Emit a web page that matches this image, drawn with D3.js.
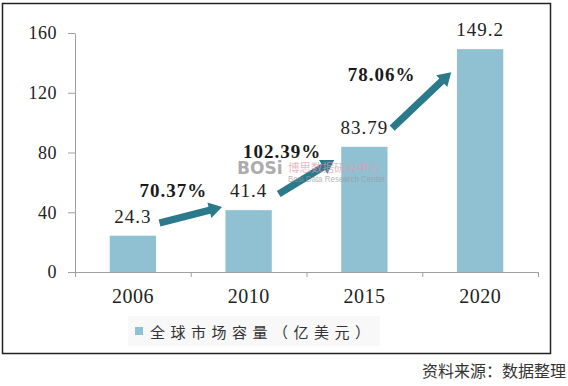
<!DOCTYPE html>
<meta charset="utf-8">
<style>
body { margin: 0; background: #fff; }
.axis path, .axis line { stroke: #a0a0a0; }
.axis text { fill: #222; font-family: "Liberation Serif", serif; }
</style>
<script src="https://d3js.org/d3.v7.min.js"></script>
<div id="chart"></div>
<script>
// data
var years = ["2006", "2010", "2015", "2020"];
var values = [24.3, 41.4, 83.79, 149.2];
var yTicks = [0, 40, 80, 120, 160];
var growth = ["70.37%", "102.39%", "78.06%"];
// growth label spots, x in band steps from the axis start, y in chart units
var growthX = [0.85, 1.79, 2.65];
var growthY = [50, 76.5, 128];
// arrows, same units
var arrowX0 = [0.73, 1.76, 2.74], arrowY0 = [32.8, 52.2, 96.3];
var arrowX1 = [1.27, 2.24, 3.25], arrowY1 = [43.5, 74.9, 133.8];
var legendLabel = "全球市场容量（亿美元）";
var sourceLabel = "资料来源：数据整理";

var W = 568, H = 386;
var barColor = "#8fc1d3", arrowColor = "#2b7a8b";

var svg = d3.select("#chart").append("svg")
  .attr("width", W).attr("height", H);

// outer frame
svg.append("rect")
  .attr("x", 2.5).attr("y", 3.5)
  .attr("width", 548).attr("height", 350)
  .attr("fill", "none").attr("stroke", "#222").attr("stroke-width", 1.5);

var x = d3.scaleBand().domain(years).range([75, 538])
  .paddingInner(0.6).paddingOuter(0.3);
var y = d3.scaleLinear().domain([0, 160]).range([272, 33]);
var step = x.step();
var ux = function(u) { return x.range()[0] + u * step; };

// y axis
var yAxis = svg.append("g").attr("class", "axis")
  .attr("transform", "translate(75,0)")
  .call(d3.axisLeft(y).tickValues(yTicks).tickSize(7).tickPadding(11).tickSizeOuter(0));
yAxis.selectAll("text").style("font-size", "18px").style("letter-spacing", "0.5px");

// x axis: labels, then boundary ticks
var xAxis = svg.append("g").attr("class", "axis")
  .attr("transform", "translate(0,272)")
  .call(d3.axisBottom(x).tickSize(0).tickPadding(17).tickSizeOuter(0));
xAxis.select(".domain").remove();
xAxis.selectAll("text").style("font-size", "20px").style("letter-spacing", "0.5px");
svg.append("line")
  .attr("x1", 75).attr("x2", 538).attr("y1", 272.5).attr("y2", 272.5)
  .attr("stroke", "#a0a0a0");
svg.append("g").selectAll("line")
  .data(d3.range(years.length + 1))
  .enter().append("line")
    .attr("x1", function(i) { return ux(i) + 0.5; })
    .attr("x2", function(i) { return ux(i) + 0.5; })
    .attr("y1", 272).attr("y2", 277)
    .attr("stroke", "#a0a0a0");

// bars
svg.append("g").selectAll("rect")
  .data(values)
  .enter().append("rect")
    .attr("x", function(d, i) { return x(years[i]); })
    .attr("width", x.bandwidth())
    .attr("y", function(d) { return y(d); })
    .attr("height", function(d) { return y(0) - y(d); })
    .attr("fill", barColor);

// value labels
svg.append("g").selectAll("text")
  .data(values)
  .enter().append("text")
    .attr("x", function(d, i) { return x(years[i]) + x.bandwidth() / 2; })
    .attr("y", function(d) { return y(d) - 13; })
    .attr("text-anchor", "middle")
    .style("font-family", "Liberation Serif, serif")
    .style("font-size", "19px")
    .style("letter-spacing", "1px")
    .style("fill", "#222")
    .text(function(d) { return d; });

// arrows
function arrowPath(i) {
  var x0 = ux(arrowX0[i]), y0 = y(arrowY0[i]);
  var x1 = ux(arrowX1[i]), y1 = y(arrowY1[i]);
  var len = Math.hypot(x1 - x0, y1 - y0);
  var dx = (x1 - x0) / len, dy = (y1 - y0) / len;
  var nx = -dy, ny = dx;
  var hw = 3.6, hh = 8, hl = 13;
  var bx = x1 - dx * hl, by = y1 - dy * hl;
  var pts = [
    [x0 + nx * hw, y0 + ny * hw],
    [bx + nx * hw, by + ny * hw],
    [bx + nx * hh, by + ny * hh],
    [x1, y1],
    [bx - nx * hh, by - ny * hh],
    [bx - nx * hw, by - ny * hw],
    [x0 - nx * hw, y0 - ny * hw]
  ];
  return "M" + pts.join("L") + "Z";
}
svg.append("g").selectAll("path")
  .data(growth)
  .enter().append("path")
    .attr("d", function(d, i) { return arrowPath(i); })
    .attr("fill", arrowColor);

// growth labels
svg.append("g").selectAll("text")
  .data(growth)
  .enter().append("text")
    .attr("x", function(d, i) { return ux(growthX[i]); })
    .attr("y", function(d, i) { return y(growthY[i]); })
    .attr("text-anchor", "middle")
    .style("font-family", "Liberation Serif, serif")
    .style("font-weight", "bold")
    .style("font-size", "19px")
    .style("letter-spacing", "1px")
    .style("fill", "#1a1a1a")
    .text(function(d) { return d; });

// watermark
var wm = svg.append("g").attr("opacity", 0.7);
wm.append("text")
  .attr("x", 237).attr("y", 174)
  .style("font-family", "DejaVu Sans, sans-serif")
  .style("font-weight", "bold").style("font-size", "17px")
  .style("fill", "#8a8a8a")
  .text("BOSi");
wm.append("text")
  .attr("x", 288).attr("y", 172)
  .style("font-family", "Noto Sans CJK SC, sans-serif")
  .style("font-size", "11.5px").style("fill", "#e29aae")
  .text("博思数据研究中心");
wm.append("text")
  .attr("x", 288).attr("y", 182)
  .attr("textLength", 97)
  .attr("lengthAdjust", "spacingAndGlyphs")
  .style("font-family", "Liberation Sans, sans-serif")
  .style("font-size", "9.5px").style("fill", "#9a9a9a")
  .text("Bosi Data Research Center");

// legend
svg.append("rect")
  .attr("x", 128).attr("y", 316).attr("width", 252).attr("height", 30)
  .attr("fill", "#f8f8f8");
svg.append("rect")
  .attr("x", 135).attr("y", 327).attr("width", 8).attr("height", 8)
  .attr("fill", barColor);
svg.append("text")
  .attr("x", 150).attr("y", 331)
  .attr("dominant-baseline", "central")
  .style("font-family", "Noto Sans CJK SC, sans-serif")
  .style("font-size", "15px")
  .style("letter-spacing", "5.5px")
  .style("fill", "#333")
  .text(legendLabel);

// source note
svg.append("text")
  .attr("x", 566).attr("y", 370)
  .attr("text-anchor", "end")
  .attr("dominant-baseline", "central")
  .style("font-family", "Noto Sans CJK SC, sans-serif")
  .style("font-size", "16px")
  .style("fill", "#333")
  .text(sourceLabel);
</script>
